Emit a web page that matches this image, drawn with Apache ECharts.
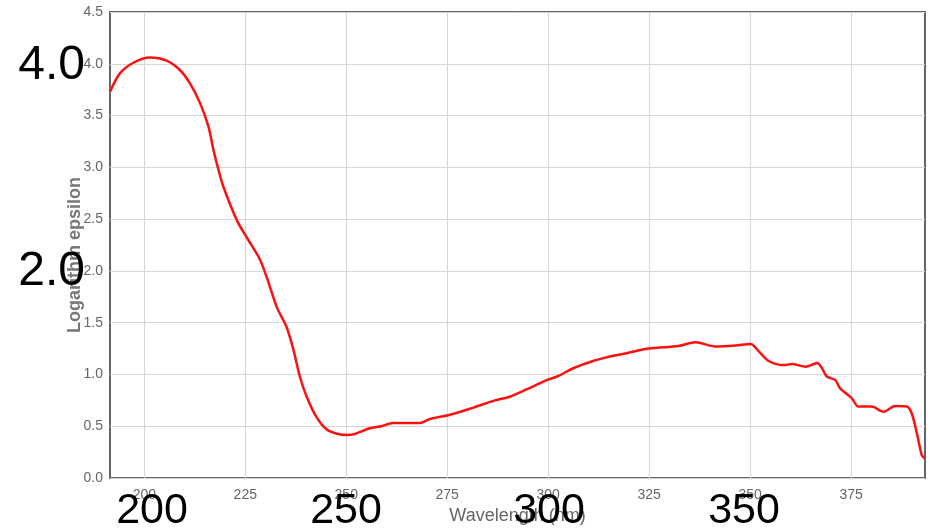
<!DOCTYPE html>
<html>
<head>
<meta charset="utf-8">
<script src="https://cdn.jsdelivr.net/npm/echarts@6/dist/echarts.min.js"></script>
<style>
  html, body { margin: 0; padding: 0; background: #fff; }
  #chart { width: 930px; height: 532px; }
</style>
</head>
<body>
<div id="chart"></div>
<script>
// Absorption spectrum: wavelength (nm) against log(epsilon)
const wavelength = [
  191.5, 194, 197.3, 201.4, 205.5, 208.8, 211.3, 213.8, 215.9, 217.1,
  218.4, 219.6, 222.9, 225.4, 228.5, 230.3, 232.8, 235.2, 236.9, 238.5,
  240.2, 242.6, 245.1, 247.5, 250.1, 252.1, 255.8, 258.7, 261.6, 268.2,
  270.7, 275.7, 281.5, 286.8, 290.5, 294.6, 299.6, 302.5, 306.2, 311.1,
  314.4, 317.5, 324.9, 332.3, 336.5, 341.4, 346.4, 350.1, 352.2, 354.6,
  358.3, 360.4, 363.7, 366.6, 367.8, 369, 371.1, 372.3, 375.2, 376.8,
  380.1, 383, 385.9, 388.8, 390, 391.3, 392.5, 393.2
];
const logEpsilon = [
  3.73, 3.91, 4.01, 4.06, 4.03, 3.94, 3.81, 3.62, 3.39, 3.17,
  2.97, 2.81, 2.49, 2.32, 2.12, 1.94, 1.65, 1.46, 1.24, 0.98,
  0.785, 0.59, 0.47, 0.43, 0.415, 0.425, 0.48, 0.50, 0.53, 0.53,
  0.57, 0.61, 0.68, 0.75, 0.785, 0.855, 0.945, 0.985, 1.06, 1.13,
  1.165, 1.19, 1.25, 1.275, 1.31, 1.27, 1.28, 1.295, 1.22, 1.13,
  1.09, 1.10, 1.075, 1.11, 1.06, 0.98, 0.945, 0.865, 0.77, 0.69,
  0.69, 0.64, 0.695, 0.69, 0.625, 0.43, 0.22, 0.19
];

// Axis ticks
const xTickValues = [200, 225, 250, 275, 300, 325, 350, 375];
const xRange = [191.5, 393.3];
const yRange = [0, 4.5];
const yStep = 0.5;

// Large callout labels
const bigYLabels = ['4.0', '2.0'];
const bigXLabels = ['200', '250', '300', '350'];

// Placement of the large callout labels (pixels)
const bigYPos = [[85, 66], [85, 272]];
const bigXPos = [[152, 511], [346, 511], [549, 511], [744, 511]];

const chart = echarts.init(document.getElementById('chart'));

const points = wavelength.map((w, i) => [w, logEpsilon[i]]);

const graphics = [];
bigYLabels.forEach((t, i) => {
  graphics.push({
    type: 'text', x: bigYPos[i][0], y: bigYPos[i][1], z: 100,
    style: { text: t, fill: '#000', font: '48px "Liberation Sans", Arial, sans-serif',
             textAlign: 'right', textVerticalAlign: 'middle' }
  });
});
bigXLabels.forEach((t, i) => {
  graphics.push({
    type: 'text', x: bigXPos[i][0], y: bigXPos[i][1], z: 100,
    style: { text: t, fill: '#000', font: '43px "Liberation Sans", Arial, sans-serif',
             textAlign: 'center', textVerticalAlign: 'middle' }
  });
});

chart.setOption({
  animation: false,
  backgroundColor: '#fff',
  grid: {
    left: 110, right: 5, top: 12, bottom: 54,
    show: true, borderColor: '#666', borderWidth: 2, backgroundColor: 'transparent'
  },
  xAxis: {
    type: 'value',
    min: xRange[0], max: xRange[1],
    name: 'Wavelength (nm)',
    nameLocation: 'middle',
    nameGap: 27,
    nameTextStyle: { color: '#666', fontSize: 18, fontFamily: '"Liberation Sans", Arial, sans-serif' },
    axisLine: { show: false },
    axisTick: { show: false, customValues: xTickValues },
    axisLabel: {
      customValues: xTickValues, color: '#666', fontSize: 14, margin: 10,
      fontFamily: '"Liberation Sans", Arial, sans-serif'
    },
    splitLine: { show: true, lineStyle: { color: '#d6d6d6', width: 1 } }
  },
  yAxis: {
    type: 'value',
    min: yRange[0], max: yRange[1], interval: yStep,
    name: 'Logarithm epsilon',
    nameLocation: 'middle',
    nameGap: 26,
    nameMoveOverlap: false,
    nameTextStyle: {
      color: '#777', fontSize: 18, fontWeight: 'bold',
      fontFamily: '"Liberation Sans", Arial, sans-serif',
      padding: [0, 20, 0, 0]
    },
    axisLine: { show: false },
    axisTick: { show: false },
    axisLabel: {
      color: '#666', fontSize: 14, margin: 7,
      fontFamily: '"Liberation Sans", Arial, sans-serif',
      formatter: v => v.toFixed(1)
    },
    splitLine: { show: true, lineStyle: { color: '#d6d6d6', width: 1 } }
  },
  series: [{
    type: 'line',
    data: points,
    showSymbol: false,
    smooth: 0.3,
    lineStyle: { color: '#ff1010', width: 2.5 },
    z: 3
  }],
  graphic: graphics
});
</script>
</body>
</html>
